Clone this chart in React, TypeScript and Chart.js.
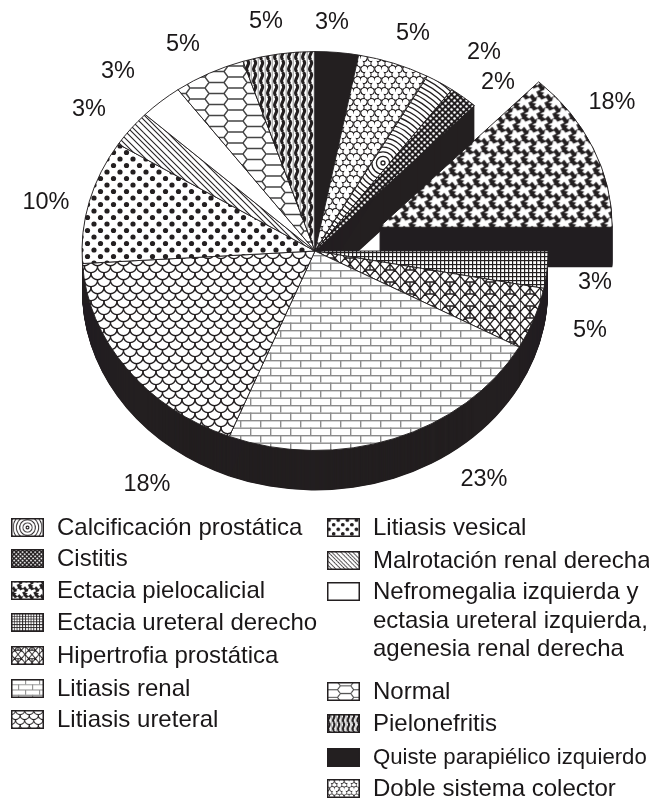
import React, { useEffect, useRef } from "react";
import { Chart, registerables } from "chart.js";

Chart.register(...registerables);

// Legend order; the pie runs clockwise through it, starting at the angle set by pieRotation.
const categories: (string | string[])[] = [
  "Calcificación prostática",
  "Cistitis",
  "Ectacia pielocalicial",
  "Ectacia ureteral derecho",
  "Hipertrofia prostática",
  "Litiasis renal",
  "Litiasis ureteral",
  "Litiasis vesical",
  "Malrotación renal derecha",
  ["Nefromegalia izquierda y", "ectasia ureteral izquierda,", "agenesia renal derecha"],
  "Normal",
  "Pielonefritis",
  "Quiste parapiélico izquierdo",
  "Doble sistema colector",
];
// Drawn slice sizes.
const sliceValues = [2, 2, 13, 3, 5, 23, 18, 10, 3, 3, 5, 5, 3, 5];
// Printed labels, as the picture prints them (the exploded slice says 18% but spans about 13%).
const percentLabels = ["2%", "2%", "18%", "3%", "5%", "23%", "18%", "10%", "3%", "3%", "5%", "5%", "3%", "5%"];
const explodedSlices = [0, 0, 70, 0, 0, 0, 0, 0, 0, 0, 0, 0, 0, 0];

const WIDTH = 649;
const HEIGHT = 799;
const CX = 315;
const CY = 251;
const RADIUS = 233;
const TILT = 0.856;
const DEPTH = 40;
const INK = "#231f20";

const labelPlaces: [number, number][] = [
  [484, 53], [498, 83], [612, 103], [595, 283], [590, 331], [484, 480], [147, 485],
  [46, 203], [89, 110], [118, 72], [183, 45], [266, 22], [332, 23], [413, 34],
];
const legendPlaces: [number, number, number][] = [
  [11, 527, 24], [11, 558, 24], [11, 590, 24], [11, 622, 24], [11, 655, 24], [11, 688, 24], [11, 719, 24],
  [327, 527, 24], [327, 560, 24], [327, 591, 24], [327, 691, 24], [327, 723, 24], [327, 757, 22.2], [327, 788, 24],
];

type Tile = { w: number; h: number; paint: (g: CanvasRenderingContext2D) => void; ox?: number; oy?: number };

function wrapPaint(g: CanvasRenderingContext2D, w: number, h: number, fn: (x: number, y: number) => void) {
  for (let i = -1; i <= 1; i++) for (let j = -1; j <= 1; j++) fn(i * w, j * h);
}

const tiles: Tile[] = [
  // Calcificación: concentric rings
  {
    w: 260, h: 260, ox: 383 - 130, oy: 163 - 130,
    paint: (g) => {
      g.strokeStyle = INK; g.lineWidth = 1.3;
      for (let r = 2; r < 184; r += 4.6) { g.beginPath(); g.arc(130, 130, r, 0, Math.PI * 2); g.stroke(); }
    },
  },
  // Cistitis: dark with white dots
  {
    w: 6, h: 6,
    paint: (g) => {
      g.fillStyle = INK; g.fillRect(0, 0, 6, 6); g.fillStyle = "#fff";
      for (const [x, y] of [[1.5, 1.5], [4.5, 4.5]]) { g.beginPath(); g.arc(x, y, 1.25, 0, Math.PI * 2); g.fill(); }
    },
  },
  // Ectacia pielocalicial: black with white figures
  {
    w: 16, h: 22,
    paint: (g) => {
      g.fillStyle = INK; g.fillRect(0, 0, 16, 22); g.fillStyle = "#fff";
      const pts = [[-8, 0], [-4, -2], [-3, -6], [0, -5], [1, -3], [6, -5], [8, -2], [4, 0], [6, 4], [3, 6], [0, 2], [-3, 5], [-6, 3], [-4, 1]];
      wrapPaint(g, 16, 22, (ox, oy) => {
        for (const [cx, cy] of [[4, 5.5], [12, 16.5]]) {
          g.beginPath();
          pts.forEach(([x, y], i) => (i ? g.lineTo(ox + cx + x, oy + cy + y) : g.moveTo(ox + cx + x, oy + cy + y)));
          g.closePath(); g.fill();
        }
      });
    },
  },
  // Ectacia ureteral: fine grid
  {
    w: 4, h: 4,
    paint: (g) => { g.fillStyle = INK; g.fillRect(0, 0, 4, 1.2); g.fillRect(0, 0, 1.2, 4); },
  },
  // Hipertrofia: lattice of triangles
  {
    w: 20, h: 24,
    paint: (g) => {
      g.strokeStyle = INK; g.lineWidth = 1.3;
      g.beginPath();
      g.moveTo(0, 0); g.lineTo(20, 24); g.moveTo(20, 0); g.lineTo(0, 24);
      g.moveTo(10, 0); g.lineTo(20, 12); g.lineTo(10, 24); g.lineTo(0, 12); g.closePath();
      g.moveTo(10, 0); g.lineTo(10, 6); g.moveTo(10, 18); g.lineTo(10, 24);
      g.moveTo(0, 0); g.lineTo(0, 24);
      g.moveTo(5, 6); g.lineTo(15, 6); g.moveTo(5, 18); g.lineTo(15, 18);
      g.stroke();
    },
  },
  // Litiasis renal: grey bricks
  {
    w: 20, h: 15,
    paint: (g) => {
      g.fillStyle = "#8c8c8c";
      g.fillRect(0, 0, 20, 1.4); g.fillRect(0, 7.5, 20, 1.4);
      g.fillRect(0, 0, 1.4, 7.5); g.fillRect(10, 7.5, 1.4, 7.5);
    },
  },
  // Litiasis ureteral: fish scales
  {
    w: 13, h: 14,
    paint: (g) => {
      g.strokeStyle = INK; g.lineWidth = 1.3;
      wrapPaint(g, 13, 14, (x, y) => {
        for (const [cx, cy] of [[0, 0], [6.5, 7]]) {
          g.beginPath(); g.arc(x + cx, y + cy, 6.7, 0, Math.PI); g.stroke();
        }
      });
    },
  },
  // Litiasis vesical: black dots
  {
    w: 13, h: 13,
    paint: (g) => {
      g.fillStyle = INK;
      for (const [x, y] of [[3, 3], [9.5, 9.5]]) { g.beginPath(); g.arc(x, y, 2.6, 0, Math.PI * 2); g.fill(); }
    },
  },
  // Malrotación: irregular diagonal lines
  {
    w: 24, h: 24,
    paint: (g) => {
      g.strokeStyle = INK; g.lineWidth = 1.1;
      for (const c of [0, 5, 11, 18]) {
        for (const s of [-24, 0, 24]) {
          g.beginPath(); g.moveTo(c + s - 24, -24); g.lineTo(c + s + 48, 48); g.stroke();
        }
      }
    },
  },
  // Nefromegalia: plain white
  { w: 4, h: 4, paint: () => {} },
  // Normal: flattened honeycomb
  {
    w: 38, h: 11,
    paint: (g) => {
      g.strokeStyle = "#444"; g.lineWidth = 1.4;
      const a = 15, b = 4, H = 11, W = 38;
      g.beginPath();
      for (const y of [0, H]) { g.moveTo(0, y); g.lineTo(a, y); }
      g.moveTo(a, 0); g.lineTo(a + b, H / 2); g.moveTo(a, H); g.lineTo(a + b, H / 2);
      g.moveTo(a + b, H / 2); g.lineTo(2 * a + b, H / 2);
      g.moveTo(2 * a + b, H / 2); g.lineTo(W, 0); g.moveTo(2 * a + b, H / 2); g.lineTo(W, H);
      g.stroke();
    },
  },
  // Pielonefritis: wavy vertical stripes
  {
    w: 7, h: 12,
    paint: (g) => {
      g.strokeStyle = INK; g.lineWidth = 3.1;
      g.beginPath(); g.moveTo(2.6, 0); g.bezierCurveTo(4, 3, 4, 3, 2.6, 6); g.bezierCurveTo(1.2, 9, 1.2, 9, 2.6, 12); g.stroke();
      g.strokeStyle = "#777"; g.lineWidth = 0.8;
      g.beginPath(); g.moveTo(6.2, 0); g.lineTo(6.2, 12); g.stroke();
    },
  },
  // Quiste: solid
  { w: 4, h: 4, paint: (g) => { g.fillStyle = INK; g.fillRect(0, 0, 4, 4); } },
  // Doble sistema: trefoils
  {
    w: 14, h: 22,
    paint: (g) => {
      const lobes = [[-3.1, -2.4], [3.1, -2.4], [0, 3]];
      const centres = [[3.5, 5.5], [10.5, 16.5]];
      g.strokeStyle = INK; g.lineWidth = 1.2;
      wrapPaint(g, 14, 22, (ox, oy) => {
        for (const [cx, cy] of centres)
          for (const [x, y] of lobes) { g.beginPath(); g.arc(ox + cx + x, oy + cy + y, 3.5, 0, Math.PI * 2); g.stroke(); }
      });
      g.fillStyle = "#fff";
      wrapPaint(g, 14, 22, (ox, oy) => {
        for (const [cx, cy] of centres) {
          for (const [x, y] of lobes) { g.beginPath(); g.arc(ox + cx + x, oy + cy + y, 2.9, 0, Math.PI * 2); g.fill(); }
          g.beginPath(); g.arc(ox + cx, oy + cy, 2, 0, Math.PI * 2); g.fill();
        }
      });
    },
  },
];

function tileCanvas(t: Tile) {
  const c = document.createElement("canvas");
  c.width = t.w; c.height = t.h;
  const g = c.getContext("2d")!;
  g.fillStyle = "#fff"; g.fillRect(0, 0, t.w, t.h);
  t.paint(g);
  return c;
}

export default function App() {
  const chartRef = useRef<HTMLCanvasElement | null>(null);
  const swatchRefs = useRef<(HTMLCanvasElement | null)[]>([]);

  useEffect(() => {
    const canvas = chartRef.current!;
    const ctx = canvas.getContext("2d")!;
    const sources = tiles.map(tileCanvas);
    const patterns = tiles.map((t, i) => {
      const p = ctx.createPattern(sources[i], "repeat")!;
      p.setTransform(
        new DOMMatrix().translate(0, CY).scale(1, 1 / TILT).translate(0, -CY).translate(t.ox ?? 0, t.oy ?? 0)
      );
      return p;
    });

    const extruded = {
      id: "extruded",
      beforeDatasetDraw(chart: any, args: any) {
        const g: CanvasRenderingContext2D = chart.ctx;
        const arcs: any[] = args.meta.data;
        const shift = (el: any, i: number) => {
          const mid = (el.startAngle + el.endAngle) / 2;
          return [Math.cos(mid) * explodedSlices[i], Math.sin(mid) * explodedSlices[i]];
        };
        const wall = (el: any, i: number) => {
          const [dx, dy] = shift(el, i);
          for (let d = DEPTH; d > 0; d -= 0.5) {
            g.beginPath();
            g.moveTo(el.x + dx, el.y + dy + d / TILT);
            g.arc(el.x + dx, el.y + dy + d / TILT, el.outerRadius, el.startAngle, el.endAngle);
            g.closePath();
            g.fill();
          }
        };
        const top = (el: any, i: number) => {
          const [dx, dy] = shift(el, i);
          g.save();
          g.translate(dx, dy);
          el.draw(g);
          g.restore();
        };
        g.save();
        g.translate(0, CY);
        g.scale(1, TILT);
        g.translate(0, -CY);
        g.fillStyle = INK;
        arcs.forEach((el, i) => { if (!explodedSlices[i]) wall(el, i); });
        arcs.forEach((el, i) => { if (explodedSlices[i]) wall(el, i); });
        arcs.forEach((el, i) => { if (explodedSlices[i]) top(el, i); });
        arcs.forEach((el, i) => { if (!explodedSlices[i]) top(el, i); });
        g.restore();
        return false;
      },
      afterDatasetsDraw(chart: any) {
        const g: CanvasRenderingContext2D = chart.ctx;
        g.save();
        g.fillStyle = "#1a1718";
        g.font = '23.5px "Liberation Sans"';
        g.textAlign = "center";
        g.textBaseline = "middle";
        percentLabels.forEach((text, i) => g.fillText(text, labelPlaces[i][0], labelPlaces[i][1]));
        g.restore();
      },
    };

    const chart = new Chart(canvas, {
      type: "pie",
      data: {
        labels: categories.map((c) => (Array.isArray(c) ? c.join(" ") : c)),
        datasets: [
          {
            data: sliceValues,
            backgroundColor: patterns,
            borderColor: INK,
            borderWidth: 1,
            radius: RADIUS,
          } as any,
        ],
      },
      options: {
        responsive: false,
        animation: false,
        rotation: ((sliceValues[12] + sliceValues[13]) / 100) * 360,
        layout: { padding: { right: WIDTH - 2 * CX, bottom: HEIGHT - 2 * CY } },
        plugins: { legend: { display: false }, tooltip: { enabled: false } },
      },
      plugins: [extruded],
    });

    swatchRefs.current.forEach((c, i) => {
      if (!c) return;
      const g = c.getContext("2d")!;
      const t = tiles[i];
      g.fillStyle = "#fff";
      g.fillRect(0, 0, c.width, c.height);
      g.save();
      g.scale(0.7, 0.7);
      if (t.ox !== undefined) g.translate(c.width / 1.4 - t.w / 2, c.height / 1.4 - t.h / 2);
      g.fillStyle = g.createPattern(sources[i], "repeat")!;
      g.fillRect(-400, -400, 800, 800);
      g.restore();
      g.strokeStyle = INK;
      g.lineWidth = 1.5;
      g.strokeRect(0.75, 0.75, c.width - 1.5, c.height - 1.5);
    });

    return () => chart.destroy();
  }, []);

  return (
    <div style={{ position: "absolute", left: 0, top: 0, width: WIDTH, height: HEIGHT, overflow: "hidden", background: "#fff" }}>
      <canvas ref={chartRef} width={WIDTH} height={HEIGHT} style={{ position: "absolute", left: 0, top: 0 }} />
      {categories.map((c, i) => {
        const [x, y, size] = legendPlaces[i];
        const lines = Array.isArray(c) ? c : [c];
        return (
          <React.Fragment key={i}>
            <canvas
              ref={(el) => { swatchRefs.current[i] = el; }}
              width={33}
              height={19}
              style={{ position: "absolute", left: x, top: y - 9 }}
            />
            <div
              style={{
                position: "absolute",
                left: x + 46,
                top: y - 14,
                font: `${size}px/28.5px "Liberation Sans"`,
                color: "#1a1718",
                whiteSpace: "nowrap",
              }}
            >
              {lines.map((l, j) => (
                <div key={j}>{l}</div>
              ))}
            </div>
          </React.Fragment>
        );
      })}
    </div>
  );
}
